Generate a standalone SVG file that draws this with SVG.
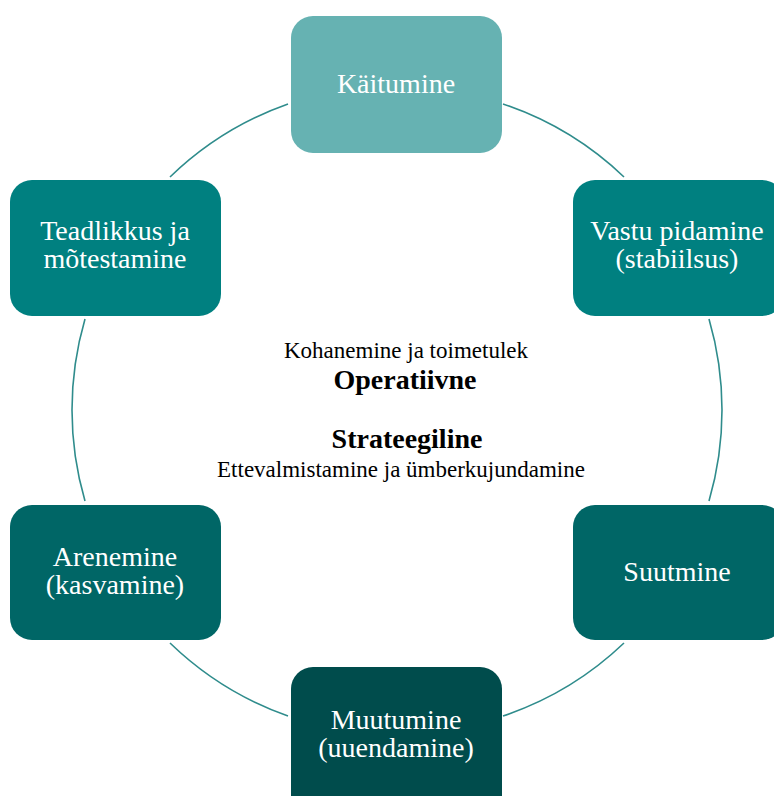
<svg xmlns="http://www.w3.org/2000/svg" width="774" height="796" viewBox="0 0 774 796">
  <style>
    .box { stroke: none; }
    .label { font-family: "Liberation Serif", "Times New Roman", serif; font-size: 28px; fill: #ffffff; text-anchor: middle; }
    .center { font-family: "Liberation Serif", "Times New Roman", serif; fill: #000000; text-anchor: middle; }
    .sub { font-size: 23px; }
    .head { font-size: 28px; font-weight: bold; }
    .ring { fill: none; stroke: #2f8c8c; stroke-width: 1.6; }
  </style>
  <rect width="774" height="796" fill="#ffffff"/>

  <!-- ring segments between the boxes (centre 397,410, r 325) -->
  <g id="connectors">
    <path class="ring" d="M170,177 A325,325 0 0 1 288,104"/>
    <path class="ring" d="M503,104 A325,325 0 0 1 624,177"/>
    <path class="ring" d="M709,319 A325,325 0 0 1 709,501"/>
    <path class="ring" d="M624,643 A325,325 0 0 1 503,716"/>
    <path class="ring" d="M288,716 A325,325 0 0 1 170,643"/>
    <path class="ring" d="M85,501 A325,325 0 0 1 85,319"/>
  </g>

  <g id="kaitumine">
    <rect class="box" x="291" y="16" width="211" height="137" rx="22" fill="#66b2b2"/>
    <text class="label" x="396" y="93">Käitumine</text>
  </g>

  <g id="vastu-pidamine">
    <rect class="box" x="573" y="180" width="211" height="136" rx="22" fill="#008080"/>
    <text class="label" x="677" y="240">Vastu pidamine</text>
    <text class="label" x="677" y="268">(stabiilsus)</text>
  </g>

  <g id="suutmine">
    <rect class="box" x="573" y="505" width="211" height="135" rx="22" fill="#006666"/>
    <text class="label" x="677" y="581">Suutmine</text>
  </g>

  <g id="muutumine">
    <rect class="box" x="291" y="667" width="211" height="150" rx="22" fill="#004c4c"/>
    <text class="label" x="396" y="729">Muutumine</text>
    <text class="label" x="396" y="757">(uuendamine)</text>
  </g>

  <g id="arenemine">
    <rect class="box" x="10" y="505" width="211" height="135" rx="22" fill="#006666"/>
    <text class="label" x="115" y="566">Arenemine</text>
    <text class="label" x="115" y="594">(kasvamine)</text>
  </g>

  <g id="teadlikkus">
    <rect class="box" x="10" y="180" width="211" height="136" rx="22" fill="#008080"/>
    <text class="label" x="115" y="240">Teadlikkus ja</text>
    <text class="label" x="115" y="268">mõtestamine</text>
  </g>

  <g id="center-text">
    <text class="center sub" x="406" y="358">Kohanemine ja toimetulek</text>
    <text class="center head" x="405" y="389">Operatiivne</text>
    <text class="center head" x="407" y="448">Strateegiline</text>
    <text class="center sub" x="401" y="477">Ettevalmistamine ja ümberkujundamine</text>
  </g>
</svg>
